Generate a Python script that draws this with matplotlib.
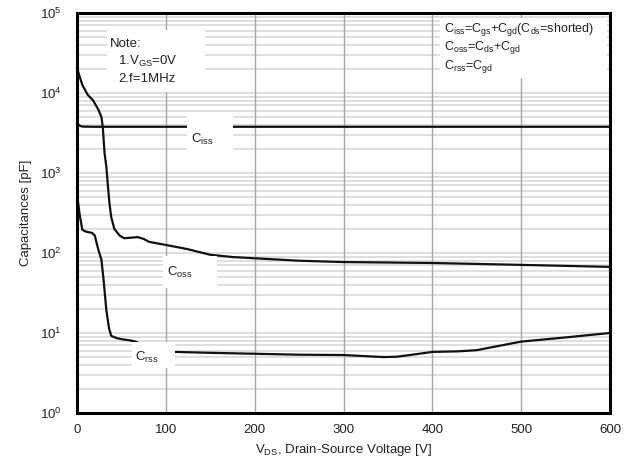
import matplotlib
matplotlib.use("Agg")
import matplotlib.pyplot as plt
from matplotlib.patches import Rectangle
from matplotlib.ticker import FixedLocator

plt.rcParams["font.family"] = ["Liberation Sans", "DejaVu Sans"]
plt.rcParams["mathtext.fontset"] = "custom"
plt.rcParams["mathtext.rm"] = "Liberation Sans"
plt.rcParams["mathtext.it"] = "Liberation Sans:italic"

# Ciss, Coss, Crss vs VDS
ciss_v = [0, 3, 6, 20, 100, 200, 300, 400, 500, 600]
ciss_c = [4200, 3900, 3800, 3780, 3780, 3780, 3780, 3780, 3780, 3780]

coss_v = [0, 3, 6, 12, 18, 24, 27.5, 29, 31, 33, 34.5, 36.5, 38.5, 42, 48, 53,
          60, 68, 75, 81, 90, 100, 124, 150, 175, 199, 250, 300, 350, 400, 450,
          500, 550, 600]
coss_c = [20600, 16000, 12600, 9500, 8100, 6200, 5000, 3760, 1780, 1200, 750,
          420, 282, 200, 165, 153, 155, 158, 150, 138, 132, 126, 112, 95, 89,
          86, 80, 77, 76, 75, 73, 71, 69, 67]

crss_v = [0, 1, 3, 6, 10, 17, 20, 24, 27.5, 30, 33, 36, 38.5, 45, 52, 59, 66,
          73, 80, 95, 110, 150, 200, 250, 300, 330, 345, 360, 380, 400, 430,
          450, 475, 500, 550, 600]
crss_c = [650, 450, 300, 195, 185, 178, 165, 110, 82, 45, 19.4, 11.5, 9.2, 8.6,
          8.3, 8.1, 7.8, 7.2, 6.6, 6.1, 5.8, 5.65, 5.5, 5.35, 5.3, 5.1, 5.0,
          5.05, 5.4, 5.8, 5.9, 6.1, 6.9, 7.8, 8.8, 10]

xticks = [0, 100, 200, 300, 400, 500, 600]
yticks = [1, 10, 100, 1000, 10000, 100000]
ytick_labels = [r"$10^{0}$", r"$10^{1}$", r"$10^{2}$", r"$10^{3}$",
                r"$10^{4}$", r"$10^{5}$"]

fig = plt.figure(figsize=(6.37, 4.62), dpi=100)
ax = fig.add_axes([0.1209, 0.1061, 0.8367, 0.8658])

ax.set_yscale("log")
ax.set_xlim(0, 600)
ax.set_ylim(1, 1e5)

# grid: light horizontal minor lines, darker vertical lines
minor = [m * 10 ** d for d in range(0, 5) for m in range(1, 10)]
for yv in minor:
    ax.axhline(yv, color="#d6d6d6", lw=1.1, zorder=0)
for xv in xticks[1:-1]:
    ax.axvline(xv, color="#a8a8a8", lw=1.0, zorder=0.5)

for v, c in [(ciss_v, ciss_c), (coss_v, coss_c), (crss_v, crss_c)]:
    ax.plot(v, c, color="#111111", lw=1.6, zorder=2, clip_on=False)

# white label boxes (axes fraction)
boxes = [(0.056, 0.8025, 0.184, 0.155),   # note
         (0.206, 0.6575, 0.087, 0.0875),  # Ciss
         (0.161, 0.3125, 0.102, 0.080),   # Coss
         (0.103, 0.1125, 0.080, 0.065),   # Crss
         (0.681, 0.8375, 0.313, 0.150)]   # formulas
for x0, y0, w, h in boxes:
    ax.add_patch(Rectangle((x0, y0), w, h, transform=ax.transAxes,
                           facecolor="white", edgecolor="none", zorder=3))

fs = 9.5
tk = dict(transform=ax.transAxes, fontsize=fs, color="#222222", zorder=4,
          va="center", ha="left")
ax.text(0.062, 0.923, "Note:", **tk)
ax.text(0.077, 0.880, r"1.V$_{\mathrm{GS}}$=0V", **tk)
ax.text(0.077, 0.835, "2.f=1MHz", **tk)

ax.text(0.213, 0.685, r"C$_{\mathrm{iss}}$", **tk)
ax.text(0.169, 0.352, r"C$_{\mathrm{oss}}$", **tk)
ax.text(0.108, 0.138, r"C$_{\mathrm{rss}}$", **tk)

fk = dict(tk, fontsize=9)
ax.text(0.688, 0.958, r"C$_{\mathrm{iss}}$=C$_{\mathrm{gs}}$+C$_{\mathrm{gd}}$(C$_{\mathrm{ds}}$=shorted)", **fk)
ax.text(0.688, 0.913, r"C$_{\mathrm{oss}}$=C$_{\mathrm{ds}}$+C$_{\mathrm{gd}}$", **fk)
ax.text(0.688, 0.866, r"C$_{\mathrm{rss}}$=C$_{\mathrm{gd}}$", **fk)

ax.xaxis.set_major_locator(FixedLocator(xticks))
ax.set_xticklabels([str(t) for t in xticks])
ax.yaxis.set_major_locator(FixedLocator(yticks))
ax.set_yticklabels(ytick_labels)
ax.yaxis.set_minor_locator(FixedLocator([]))
ax.tick_params(axis="both", which="both", length=0, labelsize=fs,
               labelcolor="#222222")
ax.tick_params(axis="x", pad=8)
ax.tick_params(axis="y", pad=11)

for s in ax.spines.values():
    s.set_linewidth(2.2)
    s.set_color("black")
    s.set_zorder(5)

ax.set_xlabel(r"V$_{\mathrm{DS}}$, Drain-Source Voltage [V]", fontsize=fs,
              color="#222222", labelpad=4)
ax.set_ylabel("Capacitances [pF]", fontsize=fs, color="#222222", labelpad=6)

fig.savefig("out.png", dpi=100)
